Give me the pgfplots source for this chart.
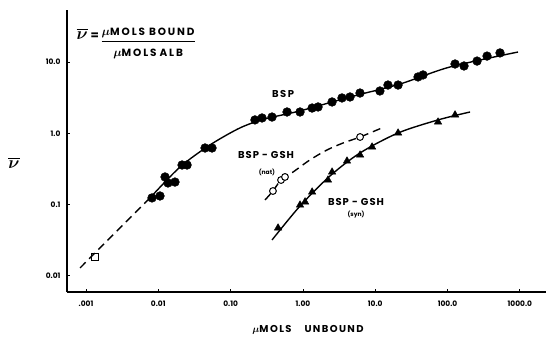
\documentclass[border=0pt]{standalone}
\usepackage{amsmath}
\usepackage{pgfplots}
\pgfplotsset{compat=1.18}
\usepackage{fontspec}
\setmainfont{Poppins}
\begin{document}
\begin{tikzpicture}[x=1bp,y=1bp]
\useasboundingbox (0,0) rectangle (546,338);
\begin{axis}[
  at={(67bp,46bp)}, anchor=south west,
  scale only axis, width=479bp, height=282bp,
  xmode=log, ymode=log,
  xmin=0.000546, xmax=2301, ymin=0.00594, ymax=53.6,
  axis x line*=bottom, axis y line*=left,
  axis line style={line width=1.4pt, -},
  xtick={0.001,0.01,0.1,1,10,100,1000},
  xticklabels={.001,0.01,0.10,1.00,10.0,100.0,1000.0},
  ytick={0.01,0.1,1,10},
  yticklabels={0.01,0.1,1.0,10.0},
  xminorticks=false, yminorticks=false,
  tick label style={font=\fontsize{7.5}{8}\selectfont\bfseries},
  /pgf/number format/assume math mode=true,
  major tick length=3bp,
  tick align=inside,
  tick style={black, line width=0.8pt},
  xticklabel style={yshift=-5bp},
  yticklabel style={xshift=-3bp},
  clip=false,
]
% BSP solid curve
\addplot[black, line width=1.4pt, smooth, tension=0.5] coordinates {
(0.00767,0.124) (0.01995,0.336) (0.0519,0.686) (0.135,1.19) (0.299,1.59)
(0.912,2.06) (4.48,3.23) (22.0,4.91) (108,8.51) (944,13.8)};
% BSP dashed extension
\addplot[black, line width=1.4pt, dash pattern=on 8bp off 5bp] coordinates {
(0.000826,0.0129) (0.00767,0.124)};
% open square
\addplot[only marks, mark=square, mark size=3.2bp, mark options={fill=white, line width=1pt}] coordinates {(0.00133,0.0184)};
% BSP points
\addplot[only marks, mark=*, mark size=4.4bp, black] coordinates {
(0.00818,0.124) (0.01055,0.132) (0.01239,0.244) (0.0136,0.201) (0.0170,0.207)
(0.0213,0.359) (0.0250,0.359) (0.0443,0.622) (0.0553,0.622)
(0.217,1.54) (0.272,1.64) (0.374,1.69) (0.603,1.99) (0.912,1.99)
(1.34,2.26) (1.62,2.34) (2.53,2.75) (3.47,3.13) (4.48,3.23) (6.16,3.67)
(11.6,3.92) (15.0,4.75) (20.7,4.75) (39.1,6.17) (45.8,6.58)
(127,9.37) (169,8.79) (256,10.3) (352,12.1) (532,13.4)};
% BSP-GSH nat dashed
\addplot[black, line width=1.4pt, dash pattern=on 8bp off 5bp, smooth] coordinates {
(0.299,0.116) (0.385,0.155) (0.498,0.221) (0.730,0.286) (1.25,0.423)
(2.15,0.583) (3.59,0.731) (6.17,0.887) (12.4,1.19)};
\addplot[only marks, mark=*, mark size=3.4bp, mark options={fill=white, draw=black, line width=1pt}] coordinates {
(0.385,0.155) (0.498,0.221) (0.565,0.244) (6.17,0.887)};
% BSP-GSH syn
\addplot[black, line width=1.4pt, smooth] coordinates {
(0.374,0.0319) (0.912,0.0955) (2.37,0.252) (6.17,0.530) (20.7,1.01) (73.9,1.54) (205,1.99)};
\addplot[only marks, mark=triangle*, mark size=4.3bp, black] coordinates {
(0.453,0.0470) (0.912,0.0986) (1.07,0.109) (1.34,0.150) (2.22,0.221) (2.53,0.286)
(4.07,0.408) (6.17,0.496) (9.04,0.643) (20.7,1.01) (73.9,1.44) (127,1.81)};
% labels
\node[font=\fontsize{10}{11}\selectfont\bfseries\addfontfeatures{LetterSpace=15}] at (axis cs:0.531,3.56) {BSP};
\node[font=\fontsize{10}{11}\selectfont\bfseries\addfontfeatures{LetterSpace=10}] at (axis cs:0.309,0.497) {BSP - GSH};
\node[font=\fontsize{6}{7}\selectfont\bfseries] at (axis cs:0.318,0.286) {(nat)};
\node[font=\fontsize{10}{11}\selectfont\bfseries\addfontfeatures{LetterSpace=10}] at (axis cs:5.42,0.109) {BSP - GSH};
\node[font=\fontsize{6}{7}\selectfont\bfseries] at (axis cs:5.42,0.0714) {(syn)};
\end{axis}
% axis labels
\node at (14,175) {\LARGE$\boldsymbol{\overline{\nu}}$};
\node[font=\fontsize{10}{11}\selectfont\bfseries\addfontfeatures{LetterSpace=14}] at (308,8) {$\boldsymbol{\mu}$MOLS\hspace{13bp}UNBOUND};
\node[anchor=west] at (73,296) {\LARGE$\boldsymbol{\overline{\nu}}$\,\textbf{\large =}\,%
\raisebox{-0.7ex}{\begin{tabular}{@{}c@{}}\fontsize{10.5}{10.5}\selectfont\bfseries\addfontfeatures{LetterSpace=18}{\large$\boldsymbol{\mu}$}MOLS\hspace{4bp}BOUND\\[-1.5bp]\hline\rule{0pt}{10bp}\fontsize{10.5}{10.5}\selectfont\bfseries\addfontfeatures{LetterSpace=18}{\large$\boldsymbol{\mu}$}MOLS\hspace{3bp}ALB\end{tabular}}};
\end{tikzpicture}
\end{document}
